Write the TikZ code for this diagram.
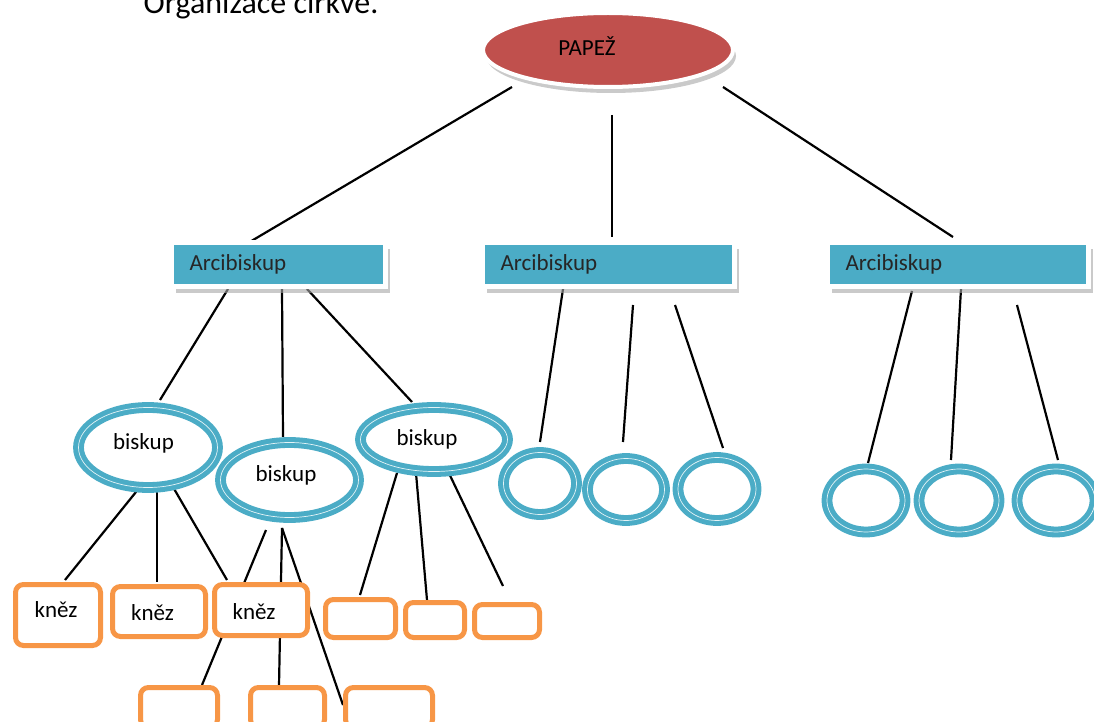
\documentclass[tikz,border=0pt]{standalone}
\usepackage{fontspec}
\setmainfont{Carlito}
\usetikzlibrary{shapes,shadows,backgrounds}
\definecolor{papred}{HTML}{C0504D}
\definecolor{arcblue}{HTML}{4BACC6}
\definecolor{knorange}{HTML}{F79646}

\begin{document}
\begin{tikzpicture}[x=0.5pt,y=-0.5pt,font=\fontsize{11.5}{13}\selectfont,
  papez/.style={ellipse, fill=papred, draw=white, line width=2pt, inner sep=0, minimum width=125pt, minimum height=37pt, drop shadow={shadow xshift=1.5pt,shadow yshift=-3pt,fill=black!35,opacity=.6}},
  arcbox/.style={rectangle, fill=arcblue, draw=white, line width=2.5pt, inner xsep=9pt, inner ysep=0pt, minimum height=22pt, align=left, text=black!85, drop shadow={shadow xshift=2pt,shadow yshift=-3.5pt,fill=black!35,opacity=.6}},
  biskup/.style={ellipse, draw=arcblue, line width=5.4pt, fill=white, inner sep=0, postaction={draw=white!85!arcblue, line width=0.35pt}},
  kruh/.style={biskup, minimum width=39pt, minimum height=31.5pt},
  knez/.style={rectangle, rounded corners=4pt, draw=knorange, line width=2.5pt, fill=white, inner sep=0},
  spoj/.style={line width=1.1pt}]
\useasboundingbox (0,0) rectangle (1094,722);
\node[anchor=base] (nadpis) at (261,14) {\fontsize{16}{19}\selectfont Organizace církve.};
% papez a arcibiskupove
\node[papez, label={[xshift=-10.5pt,yshift=2pt]center:PAPEŽ}] (papez) at (608,50) {};
\node[arcbox, text width=89pt] (arc1) at (278.5,264.5) {Arcibiskup};
\node[arcbox, text width=108pt] (arc2) at (608.5,264.5) {Arcibiskup};
\node[arcbox, text width=112.5pt] (arc3) at (958,264.5) {Arcibiskup};
% biskupove
\node[biskup, minimum width=69.5pt, minimum height=40pt, label={[xshift=-2.25pt,yshift=2.25pt]center:biskup}] (bis1) at (148,447.5) {};
\node[biskup, minimum width=69pt, minimum height=37.5pt, label={[xshift=-1.75pt,yshift=2.5pt]center:biskup}] (bis2) at (289.5,480) {};
\node[biskup, minimum width=73.5pt, minimum height=32pt, label={[xshift=-3.5pt]center:biskup}] (bis3) at (434,439.5) {};
\node[kruh, minimum width=36.5pt, minimum height=31pt] (kr1) at (540,483.5) {};
\node[kruh, minimum width=38.5pt, minimum height=31pt] (kr2) at (626,489.5) {};
\node[kruh] (kr3) at (717,489) {};
\node[kruh] (kr4) at (866,500.5) {};
\node[kruh, minimum width=40pt] (kr5) at (959,500.5) {};
\node[kruh] (kr6) at (1056,500.5) {};
% knezi
\node[knez, minimum width=42.5pt, minimum height=30.5pt, label={[xshift=-1pt,yshift=2.5pt]center:kněz}] (kn1) at (58,615) {};
\node[knez, minimum width=46.5pt, minimum height=25pt, label={[xshift=-3.25pt,yshift=-0.75pt]center:kněz}] (kn2) at (159,611.5) {};
\node[knez, minimum width=46.5pt, minimum height=25.5pt, label={[xshift=-3.5pt,yshift=-1pt]center:kněz}] (kn3) at (261,610) {};
\node[knez, minimum width=35pt, minimum height=19pt] (kn4) at (360.5,618.5) {};
\node[knez, minimum width=29.5pt, minimum height=17.5pt] (kn5) at (435,620) {};
\node[knez, minimum width=32.5pt, minimum height=16.5pt] (kn6) at (507,621) {};
\node[knez, minimum width=38.5pt, minimum height=20pt] (kn7) at (179,707.5) {};
\node[knez, minimum width=37pt, minimum height=20pt] (kn8) at (287.5,707.5) {};
\node[knez, minimum width=43.5pt, minimum height=20pt] (kn9) at (389,707.5) {};
% spojnice
\begin{scope}[on background layer]
\draw[spoj] ([shift={(-96,37)}]papez.center) -- ([shift={(-30.5,-21.5)}]arc1.center);
\draw[spoj] ([shift={(4,65)}]papez.center) -- ([shift={(3.5,-27.5)}]arc2.center);
\draw[spoj] ([shift={(115,37)}]papez.center) -- ([shift={(-5,-27.5)}]arc3.center);
\draw[spoj] ([shift={(-50.5,24.5)}]arc1.center) -- ([shift={(12,-47.5)}]bis1.center);
\draw[spoj] ([shift={(3.5,24.5)}]arc1.center) -- ([shift={(-6.5,-43)}]bis2.center);
\draw[spoj] ([shift={(28.5,24.5)}]arc1.center) -- ([shift={(-22,-37.5)}]bis3.center);
\draw[spoj] ([shift={(-45.5,24.5)}]arc2.center) -- ([shift={(0,-41.5)}]kr1.center);
\draw[spoj] ([shift={(24.5,40.5)}]arc2.center) -- ([shift={(-3,-47.5)}]kr2.center);
\draw[spoj] ([shift={(66.5,40.5)}]arc2.center) -- ([shift={(6,-41)}]kr3.center);
\draw[spoj] ([shift={(-46,26.5)}]arc3.center) -- ([shift={(2,-37.5)}]kr4.center);
\draw[spoj] ([shift={(3,24.5)}]arc3.center) -- ([shift={(-8,-40.5)}]kr5.center);
\draw[spoj] ([shift={(59,40.5)}]arc3.center) -- ([shift={(2,-40.5)}]kr6.center);
\draw[spoj] ([shift={(-8,39.5)}]bis1.center) -- ([shift={(7,-35)}]kn1.center);
\draw[spoj] ([shift={(9,39.5)}]bis1.center) -- ([shift={(-2,-29.5)}]kn2.center);
\draw[spoj] ([shift={(25,39.5)}]bis1.center) -- ([shift={(-34,-30)}]kn3.center);
\draw[spoj] ([shift={(-23.5,50)}]bis2.center) -- ([shift={(23,-22.5)}]kn7.center);
\draw[spoj] ([shift={(-7.5,48)}]bis2.center) -- ([shift={(-8.5,-21.5)}]kn8.center);
\draw[spoj] ([shift={(-7.5,48)}]bis2.center) -- ([shift={(-46,-2.5)}]kn9.center);
\draw[spoj] ([shift={(-37,33.5)}]bis3.center) -- ([shift={(-0.5,-23.5)}]kn4.center);
\draw[spoj] ([shift={(-18,33.5)}]bis3.center) -- ([shift={(-8,-20)}]kn5.center);
\draw[spoj] ([shift={(11,25.5)}]bis3.center) -- ([shift={(-4,-35)}]kn6.center);
\end{scope}
\end{tikzpicture}
\end{document}
